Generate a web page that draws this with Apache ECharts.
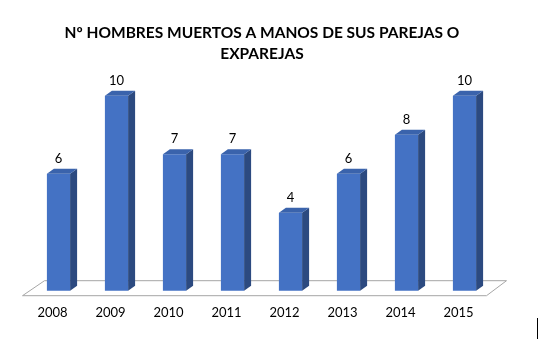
<!DOCTYPE html>
<html><head><meta charset="utf-8">
<script src="https://cdn.jsdelivr.net/npm/echarts@6/dist/echarts.min.js"></script>
<style>html,body{margin:0;padding:0;background:#fff}#c{width:542px;height:339px}</style>
</head><body><div id="c"></div>
<script>
const categories = ['2008','2009','2010','2011','2012','2013','2014','2015'];
const values = [6,10,7,7,4,6,8,10];
const titleText = 'Nº HOMBRES MUERTOS A MANOS DE SUS PAREJAS O\nEXPAREJAS';

const chart = echarts.init(document.getElementById('c'));
const DX = 7, DY = -5;
const FRONT = '#4472C4', SIDE = '#2C4A80', TOP = '#3A63AC';

function renderBar(params, api){
  const idx = api.value(0), v = api.value(1);
  const p = api.coord([idx, v]);
  const b = api.coord([idx, 0]);
  const bw = api.size([1,0])[0]*0.4;
  const xl = p[0]-bw/2, xr = p[0]+bw/2, yt = p[1], yb = b[1];
  return {type:'group', children:[
    {type:'rect', shape:{x:xl, y:yt, width:bw, height:yb-yt}, style:{fill:FRONT}},
    {type:'polygon', shape:{points:[[xr,yt],[xr+DX,yt+DY],[xr+DX,yb+DY],[xr,yb]]}, style:{fill:SIDE}},
    {type:'polygon', shape:{points:[[xl,yt],[xl+DX,yt+DY],[xr+DX,yt+DY],[xr,yt]]}, style:{fill:TOP}},
    {type:'text', style:{text:String(v), x:p[0], y:yt-15, align:'center', verticalAlign:'middle', font:'13px Lato', fill:'#000'}}
  ]};
}
function renderFloor(params, api){
  if (params.dataIndex !== 0) return null;
  const l = api.coord([0,0]), r = api.coord([categories.length-1,0]);
  const half = api.size([1,0])[0]/2;
  const x0 = l[0]-half, x1 = r[0]+half, y = l[1];
  return {type:'polygon', shape:{points:[[x0+15,y-10],[x1+13,y-10],[x1-7,y+5],[x0-7,y+5]]},
    style:{fill:'#fff', stroke:'#a6a6a6', lineWidth:1}};
}

chart.setOption({
  animation:false,
  title:{text:titleText, left:257, top:17, textAlign:'center',
    textStyle:{fontFamily:'Lato', fontWeight:'bold', fontSize:15.5, lineHeight:21, color:'#000'}},
  grid:{left:29.5, right:48.5, top:95.7, bottom:48.3},
  xAxis:{type:'category', data:categories, axisLine:{show:false}, axisTick:{show:false},
    axisLabel:{margin:16, fontFamily:'Lato', fontSize:13, color:'#000', padding:[0,12,0,0]}},
  yAxis:{type:'value', min:0, max:10, show:false, splitLine:{show:false}},
  series:[
    {type:'custom', renderItem:renderFloor, data:[[0,0]], silent:true, z:1},
    {type:'custom', renderItem:renderBar, data:values.map((v,i)=>[i,v]), clip:false, z:2}
  ],
  graphic:[{type:'line', shape:{x1:537.5,y1:318,x2:537.5,y2:339}, style:{stroke:'#000', lineWidth:1}}]
});
</script></body></html>
